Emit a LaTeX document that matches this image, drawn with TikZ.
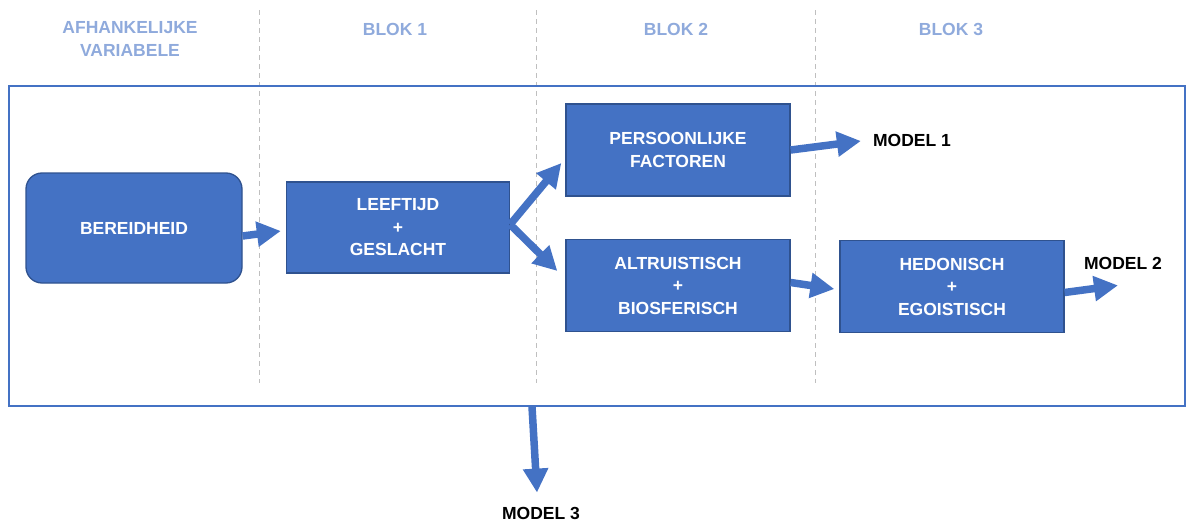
\documentclass[tikz,border=0pt]{standalone}
\usepackage{fontspec}
\setmainfont{Liberation Sans}
\usetikzlibrary{arrows.meta,calc}
\definecolor{boxblue}{HTML}{4472C4}
\definecolor{boxedge}{HTML}{2F528F}
\definecolor{hdrblue}{HTML}{8FAADC}
\definecolor{gridgray}{HTML}{BFBFBF}
\begin{document}
\begin{tikzpicture}[x=1pt,y=-1pt,
  txt/.style={font=\bfseries\fontsize{17.5}{22.5}\selectfont, align=center, inner sep=0pt},
  hdr/.style={txt, text=hdrblue},
  blockbox/.style={txt, draw=boxedge, line width=1.3pt, fill=boxblue, text=white, minimum width=224pt, minimum height=92pt},
  modeltxt/.style={txt, text=black},
  bigarrow/.style={draw=boxblue, line width=7.5pt, -{Triangle[length=24pt,width=24pt]}},
  sepline/.style={draw=gridgray, line width=0.9pt, dash pattern=on 5pt off 4pt}
]
\useasboundingbox (0,0) rectangle (1187,522);

% headers
\node[hdr] (hdrdep) at (130,39) {AFHANKELIJKE\\VARIABELE};
\node[hdr] (hdrb1) at (395,29) {BLOK 1};
\node[hdr] (hdrb2) at (676,29) {BLOK 2};
\node[hdr] (hdrb3) at (951,29) {BLOK 3};

% separators
\draw[sepline] (259,10) -- (259,383);
\draw[sepline] (536,10) -- (536,383);
\draw[sepline] (815,10) -- (815,383);

% frame
\node[draw=boxblue, line width=1.5pt, minimum width=1176pt, minimum height=320pt, inner sep=0pt] (frame) at (597,246) {};

% boxes
\node[blockbox, rounded corners=16pt, minimum width=216pt, minimum height=110pt] (bereid) at (134,228) {BEREIDHEID};
\node[blockbox, minimum width=223pt, minimum height=91pt] (leef) at (398,227.5) {LEEFTIJD\\+\\GESLACHT};
\node[blockbox] (pers) at (678,150) {PERSOONLIJKE\\FACTOREN};
\node[blockbox] (altr) at (678,285.5) {ALTRUISTISCH\\+\\BIOSFERISCH};
\node[blockbox] (hedo) at (952,286.5) {HEDONISCH\\+\\EGOISTISCH};

% model labels
\node[modeltxt] (m1) at (912,140) {MODEL 1};
\node[modeltxt] (m2) at (1123,263) {MODEL 2};
\node[modeltxt] (m3) at (541,513) {MODEL 3};

% arrow tips
\coordinate (tipleef) at ($(leef.west)+(-5,3.5)$);
\coordinate (tippers) at ($(pers.west)+(-4,13)$);
\coordinate (tipaltr) at ($(altr.west)+(-8,-14.5)$);
\coordinate (tiphedo) at ($(hedo.west)+(-5,2.5)$);
\coordinate (tipm1) at ($(m1.west)+(-12,1)$);
\coordinate (tipm2) at ($(m2.south)+(-5,16)$);
\coordinate (tipm3) at ($(m3.north)+(-4,-14)$);

% arrows
\draw[bigarrow] ($(bereid.east)+(0,8)$) -- (tipleef);
\draw[bigarrow] ($(leef.east)+(0,-3)$) -- (tippers);
\draw[bigarrow] ($(leef.east)+(0,-3)$) -- (tipaltr);
\draw[bigarrow] (pers.east) -- (tipm1);
\draw[bigarrow] ($(altr.east)+(0,-3)$) -- (tiphedo);
\draw[bigarrow] ($(hedo.east)+(0,6)$) -- (tipm2);
\draw[bigarrow] ($(frame.south)+(-65,0)$) -- (tipm3);
\end{tikzpicture}
\end{document}
